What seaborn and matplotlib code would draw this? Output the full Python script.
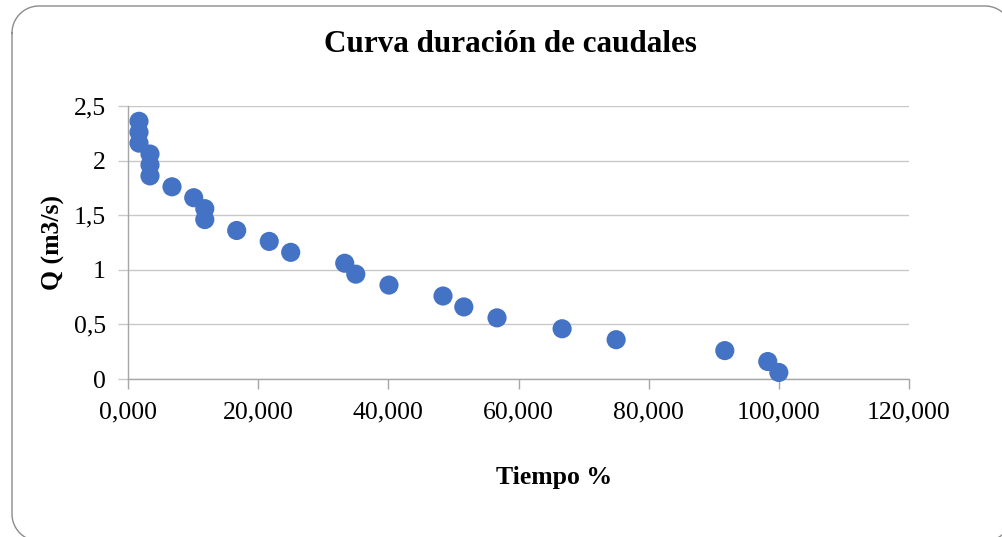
import numpy as np
import pandas as pd
import matplotlib
matplotlib.use("Agg")
import matplotlib.pyplot as plt
import seaborn as sns
from matplotlib.ticker import FuncFormatter

# Data
tiempo = [1.69, 1.69, 1.69, 3.38, 3.38, 3.38, 6.76, 10.1, 11.8, 11.8, 16.7, 21.7,
          25.0, 33.3, 35.0, 40.1, 48.4, 51.6, 56.7, 66.7, 75.0, 91.7, 98.3, 100.0]
caudal = [2.36, 2.26, 2.16, 2.06, 1.96, 1.86, 1.76, 1.66, 1.56, 1.46, 1.36, 1.26,
          1.16, 1.06, 0.96, 0.86, 0.76, 0.66, 0.56, 0.46, 0.36, 0.26, 0.16, 0.06]
x_ticks = [0, 20, 40, 60, 80, 100, 120]
y_ticks = [0, 0.5, 1, 1.5, 2, 2.5]

df = pd.DataFrame({"Tiempo %": tiempo, "Q (m3/s)": caudal})

sns.set_style("white")
plt.rcParams['font.family'] = ['Liberation Serif', 'DejaVu Serif']
plt.rcParams['text.color'] = 'black'
plt.rcParams['axes.labelcolor'] = 'black'
plt.rcParams['xtick.color'] = 'black'
plt.rcParams['ytick.color'] = 'black'

fig = plt.figure(figsize=(10.02, 5.37), dpi=100)

# background axes in pixel units for the rounded chart border (polyline)
bg = fig.add_axes([0, 0, 1, 1], zorder=-1)
bg.set_xlim(0, 1002)
bg.set_ylim(537, 0)
bg.axis("off")
L, T, R, B, r = 12, 6, 1012, 541, 27
def arc(cx, cy, a0, a1):
    a = np.radians(np.linspace(a0, a1, 30))
    return cx + r * np.cos(a), cy + r * np.sin(a)
segs = [arc(L + r, T + r, 180, 270), arc(R - r, T + r, 270, 360),
        arc(R - r, B - r, 0, 90), arc(L + r, B - r, 90, 180)]
bx = np.concatenate([s[0] for s in segs] + [segs[0][0][:1]])
by = np.concatenate([s[1] for s in segs] + [segs[0][1][:1]])
bg.plot(bx, by, color="#8c8c8c", linewidth=1.0, clip_on=True)

ax = fig.add_axes([128/1002, 1-379/537, (909-128)/1002, (379-106)/537])
ax.patch.set_alpha(0)

sns.scatterplot(data=df, x="Tiempo %", y="Q (m3/s)", ax=ax, s=190,
                color="#4472C4", edgecolor="none", zorder=3, clip_on=False)

ax.set_xlim(0, 120)
ax.set_ylim(0, 2.5)
ax.set_xticks(x_ticks)
ax.set_yticks(y_ticks)
ax.xaxis.set_major_formatter(FuncFormatter(lambda v, p: f"{v:.3f}".replace(".", ",")))
ax.yaxis.set_major_formatter(FuncFormatter(lambda v, p: (f"{v:g}").replace(".", ",")))

ax.grid(axis="y", color="#c8c8c8", linewidth=1.0)
ax.set_axisbelow(True)
for side in ["top", "right"]:
    ax.spines[side].set_visible(False)
for side in ["left", "bottom"]:
    ax.spines[side].set_color("#a6a6a6")
    ax.spines[side].set_linewidth(1.0)
ax.tick_params(axis="x", direction="out", length=7, color="#a6a6a6", width=1.0,
               labelsize=18.5, pad=9, bottom=True)
ax.tick_params(axis="y", direction="out", length=7, color="#c8c8c8", width=1.0,
               labelsize=18.5, pad=9, left=True)

ax.set_xlabel("Tiempo %", fontsize=18.5, fontweight="bold")
ax.set_ylabel("Q (m3/s)", fontsize=18.5, fontweight="bold")
ax.xaxis.set_label_coords((554-128)/781, -(466-379)/273)
ax.yaxis.set_label_coords(-(128-65)/781, 0.5)

fig.text(510/1002, 1-44/537, "Curva duración de caudales", ha="center", va="center",
         fontsize=22.4, fontweight="bold")

fig.savefig("out.png", dpi=100)
